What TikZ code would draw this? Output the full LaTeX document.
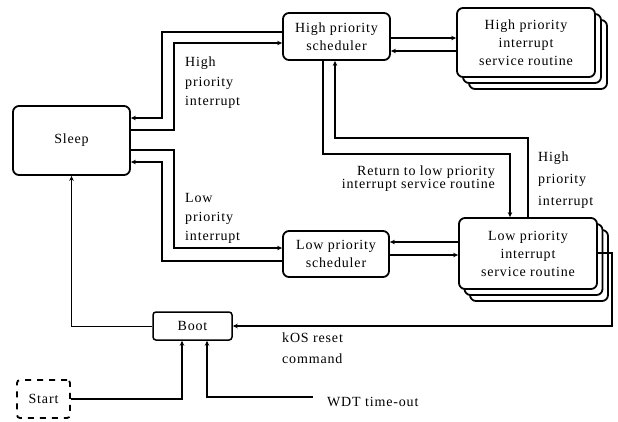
\documentclass[tikz,border=0pt]{standalone}
\usepackage{fontspec}
\setmainfont{Liberation Serif}[LetterSpace=6]
\usetikzlibrary{arrows.meta}
\begin{document}
\begin{tikzpicture}[x=1pt,y=-1pt,
  every node/.style={font=\fontsize{14}{18}\selectfont},
  box/.style={draw,line width=1.8pt,rounded corners=6pt,fill=white,align=center,inner sep=0pt},
  conn/.style={line width=1.2pt},
  arr/.style={conn,-{Stealth[length=5pt,width=4.5pt]}},
  thinarr/.style={line width=0.9pt,-{Stealth[length=5pt,width=4.5pt]}},
  lbl/.style={inner sep=0pt}]
\useasboundingbox (0,0) rectangle (618,421);

% boxes
\node[box,minimum width=117pt,minimum height=69pt] (sleep) at (71.5,140.5) {Sleep};
\node[box,minimum width=107pt,minimum height=47pt] (hps) at (336.5,36.5) {High priority\\scheduler};
\node[box,minimum width=138pt,minimum height=69pt] (hpisrC) at (538,54.5) {};
\node[box,minimum width=138pt,minimum height=69pt] (hpisrB) at (532,48.5) {};
\node[box,minimum width=138pt,minimum height=69pt] (hpisr) at (526,42.5) {High priority\\interrupt\\service routine};
\node[box,minimum width=106pt,minimum height=46pt] (lps) at (336,254) {Low priority\\scheduler};
\node[box,minimum width=138pt,minimum height=71pt] (lpisrC) at (539,265.5) {};
\node[box,minimum width=138pt,minimum height=71pt] (lpisrB) at (533.5,259.5) {};
\node[box,minimum width=138pt,minimum height=71pt] (lpisr) at (528,253.5) {Low priority\\interrupt\\service routine};
\node[box,line width=1.5pt,rounded corners=3pt,minimum width=79pt,minimum height=28pt] (boot) at (192.5,326) {Boot};
\node[box,line width=1.8pt,dash pattern=on 6pt off 6pt,rounded corners=3pt,minimum width=53pt,minimum height=38pt] (start) at (43.5,399) {Start};
\coordinate (wdt) at (313,397);

% Sleep <-> high priority scheduler
\draw[arr] (hps.west |- 0,32) -| (162,118) -- (sleep.east |- 0,118);
\draw[arr] (sleep.east |- 0,130) -| (174,43) -- (hps.west |- 0,43);
% Sleep <-> low priority scheduler
\draw[arr] (sleep.east |- 0,150) -| (174,248) -- (lps.west |- 0,248);
\draw[arr] (lps.west |- 0,261) -| (162,162) -- (sleep.east |- 0,162);
% schedulers <-> ISRs
\draw[arr] (hps.east |- 0,38) -- (hpisr.west |- 0,38);
\draw[arr] (hpisr.west |- 0,51) -- (hps.east |- 0,51);
\draw[arr] (lpisr.west |- 0,242) -- (lps.east |- 0,242);
\draw[arr] (lps.east |- 0,255) -- (lpisr.west |- 0,255);
% between high priority scheduler and low priority ISR
\draw[arr] (hps.south -| 323,0) |- (510,154) -- (lpisr.north -| 510,0);
\draw[arr] (lpisr.north -| 528,0) |- (335,138) -- (hps.south -| 335,0);
% kOS reset
\draw[arr] (lpisr.east |- 0,253) -| (612,326) -- (boot.east);
% boot -> sleep
\draw[thinarr] (boot.west) -| (sleep.south);
% start, WDT -> boot
\draw[arr] (start.east) -| (boot.south -| 182,0);
\draw[arr] (wdt) -| (boot.south -| 207,0);

% labels
\node[lbl,anchor=west,align=left,font=\fontsize{14}{19.5}\selectfont] (l1) at (185,83) {High\\priority\\interrupt};
\node[lbl,anchor=west,align=left,font=\fontsize{14}{19}\selectfont] (l2) at (185,218) {Low\\priority\\interrupt};
\node[lbl,anchor=east,align=right,font=\fontsize{14}{13}\selectfont] (l3) at (495,179) {Return to low priority\\interrupt service routine};
\node[lbl,anchor=west,align=left,font=\fontsize{14}{22}\selectfont] (l4) at (538,180) {High\\priority\\interrupt};
\node[lbl,anchor=west,align=left,font=\fontsize{14}{21}\selectfont] (l5) at (282,348) {kOS reset\\command};
\node[lbl,anchor=west] (l6) at (327,402) {WDT time-out};
\end{tikzpicture}
\end{document}
